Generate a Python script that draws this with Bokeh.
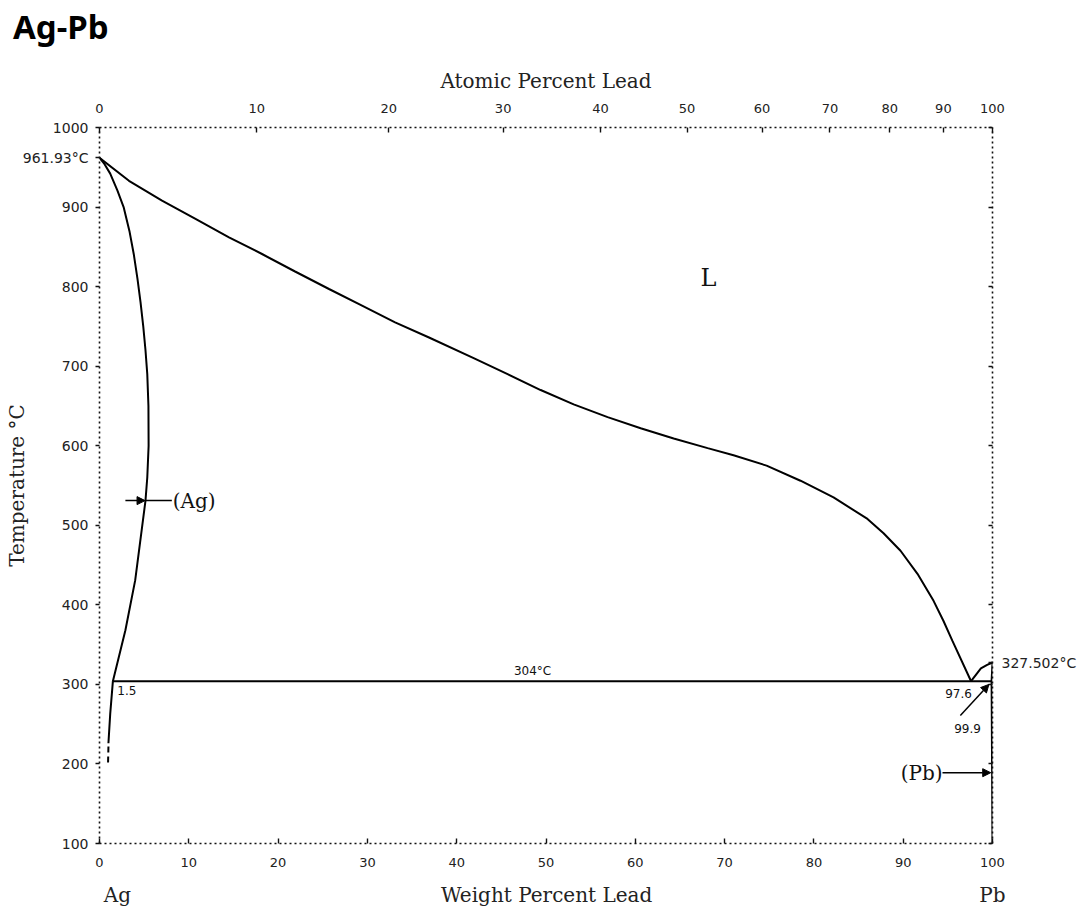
from bokeh.plotting import figure
from bokeh.layouts import column
from bokeh.models import LinearAxis, FixedTicker, Range1d, Label, Arrow, NormalHead, Div
from bokeh.embed import file_html
from bokeh.resources import INLINE

# ---- data (weight % Pb, temperature °C) ----
liq_wt = [0, 3.3, 7.0, 10.75, 14.5, 18.2, 21.9, 25.7, 29.4, 33.1, 36.9, 41.9, 45.7, 49.4, 53.1,
          56.9, 60.6, 64.3, 68.1, 71.0, 74.7, 78.5, 82.2, 86.0, 87.8, 89.7, 91.6, 93.4, 94.5,
          95.5, 97.6]
liq_T = [961.93, 933, 908, 885, 862, 841, 819, 797, 776, 755, 736, 710, 690, 670, 652,
         636, 622, 609, 597, 588, 575, 556, 535, 508, 490, 468, 439, 405, 380,
         355, 304]

sol_wt = [0, 0.5, 1.2, 2.0, 2.7, 3.35, 3.85, 4.25, 4.6, 4.9, 5.15, 5.35, 5.48, 5.5, 5.35, 5.15,
          4.0, 2.9, 1.5]
sol_T = [961.93, 955, 942, 921, 900, 870, 840, 810, 780, 750, 720, 690, 650, 600, 560, 531,
         431, 368, 304]

solvus_wt = [1.5, 1.2, 1.0]
solvus_T = [304, 263, 226]
solvus_ext_wt = [1.0, 0.95]
solvus_ext_T = [222, 198]

eut_wt = [1.5, 99.9]
eut_T = [304, 304]

pb_liq_wt = [97.6, 98.7, 99.4, 100]
pb_liq_T = [304, 320, 324.5, 327.5]

pb_sol_wt = [100, 99.9, 99.95, 100]
pb_sol_T = [327.5, 304, 200, 100]

ag_melt = 961.93
pb_melt = 327.502

wt_ticks = [0, 10, 20, 30, 40, 50, 60, 70, 80, 90, 100]
temp_ticks = [100, 200, 300, 400, 500, 600, 700, 800, 900, 1000]
at_labels = [0, 10, 20, 30, 40, 50, 60, 70, 80, 90, 100]
at_pos_wt = [0, 17.6, 32.4, 45.2, 56.1, 65.8, 74.2, 81.8, 88.5, 94.5, 100]

TICK_FONT = "DejaVu Sans"
SERIF = "DejaVu Serif"

title = Div(text="Ag-Pb", width=300, height=55,
            styles={"font-family": "Noto Sans", "font-size": "33px", "font-weight": "bold",
                    "color": "black", "padding-left": "13px", "padding-top": "4px",
                    "line-height": "normal", "margin": "0px"})

p = figure(frame_width=893, frame_height=716,
           x_range=Range1d(0, 100), y_range=Range1d(100, 1000),
           output_backend="svg", toolbar_location=None,
           x_axis_location=None, y_axis_location=None,
           min_border_left=99, min_border_right=92,
           min_border_top=72, min_border_bottom=68)
p.grid.visible = False
p.outline_line_color = None
p.background_fill_color = "white"
p.border_fill_color = "white"


def style(ax):
    ax.axis_line_dash = "2 3"
    ax.axis_line_width = 1.6
    ax.axis_line_color = "#111"
    ax.major_tick_line_color = "#111"
    ax.major_tick_line_width = 1.4
    ax.minor_tick_line_color = None
    ax.major_label_text_font = TICK_FONT
    ax.major_label_text_font_size = "13px"
    ax.major_label_text_color = "#222"
    ax.axis_label_text_font = SERIF
    ax.axis_label_text_font_size = "20px"
    ax.axis_label_text_font_style = "normal"
    ax.axis_label_text_color = "#222"


bottom = LinearAxis(ticker=FixedTicker(ticks=wt_ticks))
style(bottom)
bottom.major_tick_in = 5
bottom.major_tick_out = 0
bottom.major_label_standoff = 14
p.add_layout(bottom, "below")

# second row under the bottom axis: end members and the axis title
bottom2 = LinearAxis(ticker=FixedTicker(ticks=[2.0, 50.07, 100]),
                     major_label_overrides={2.0: "Ag", 50.07: "Weight Percent Lead", 100: "Pb"})
style(bottom2)
bottom2.axis_line_color = None
bottom2.major_tick_line_color = None
bottom2.major_tick_in = 0
bottom2.major_tick_out = 0
bottom2.major_label_text_font = SERIF
bottom2.major_label_text_font_size = "20px"
bottom2.major_label_standoff = 13
p.add_layout(bottom2, "below")

left = LinearAxis(ticker=FixedTicker(ticks=temp_ticks + [ag_melt]), axis_label="Temperature °C",
                  major_label_overrides={ag_melt: "961.93°C"})
style(left)
left.major_label_text_font_size = "14px"
left.major_tick_in = 0
left.major_tick_out = 4
left.major_label_standoff = 7
left.axis_label_standoff = -9
p.add_layout(left, "left")

top = LinearAxis(ticker=FixedTicker(ticks=at_pos_wt), axis_label="Atomic Percent Lead",
                 major_label_overrides={w: str(a) for w, a in zip(at_pos_wt, at_labels)})
style(top)
top.major_tick_in = 5
top.major_tick_out = 0
top.major_label_standoff = 15
top.axis_label_standoff = 8
p.add_layout(top, "above")

right_over = {t: " " for t in temp_ticks}
right_over[pb_melt] = "327.502°C"
right = LinearAxis(ticker=FixedTicker(ticks=temp_ticks + [pb_melt]), major_label_overrides=right_over)
style(right)
right.major_label_text_font_size = "14px"
right.major_tick_in = 4
right.major_tick_out = 0
right.major_label_standoff = 9
p.add_layout(right, "right")

# ---- phase boundaries ----
LW = 2.0
p.line(liq_wt, liq_T, line_color="black", line_width=LW)
p.line(sol_wt, sol_T, line_color="black", line_width=LW)
p.line(solvus_wt, solvus_T, line_color="black", line_width=LW)
p.line(solvus_ext_wt, solvus_ext_T, line_color="black", line_width=LW, line_dash="6 4")
p.line(eut_wt, eut_T, line_color="black", line_width=LW)
p.line(pb_liq_wt, pb_liq_T, line_color="black", line_width=LW)
p.line(pb_sol_wt, pb_sol_T, line_color="black", line_width=LW)

# ---- arrows ----
p.add_layout(Arrow(end=NormalHead(size=8, fill_color="black", line_color="black"),
                   x_start=2.9, y_start=531, x_end=5.1, y_end=531, line_width=1.5))
p.segment(x0=[5.1], y0=[531], x1=[8.1], y1=[531], line_color="black", line_width=1.5)
p.add_layout(Arrow(end=NormalHead(size=8, fill_color="black", line_color="black"),
                   x_start=94.4, y_start=189, x_end=99.8, y_end=189, line_width=1.5))
p.add_layout(Arrow(end=NormalHead(size=8, fill_color="black", line_color="black"),
                   x_start=96.4, y_start=261, x_end=99.6, y_end=300, line_width=1.5))


def lab(x, y, text, size="13px", font=TICK_FONT, align="left", baseline="middle", color="#111"):
    p.add_layout(Label(x=x, y=y, text=text, text_font=font, text_font_size=size,
                       text_align=align, text_baseline=baseline, text_color=color))


lab(48.5, 317, "304°C", size="12px", align="center")
lab(2.0, 292, "1.5", size="12px")
lab(96.2, 288.5, "97.6", size="12px", align="center")
lab(97.2, 244.5, "99.9", size="12px", align="center")
lab(8.2, 531, "(Ag)", size="20px", font=SERIF)
lab(94.4, 189, "(Pb)", size="20px", font=SERIF, align="right")
lab(68.2, 811, "L", size="24px", font=SERIF, align="center")

layout = column(title, p, spacing=0)
open("out.html", "w").write(file_html(layout, INLINE))
